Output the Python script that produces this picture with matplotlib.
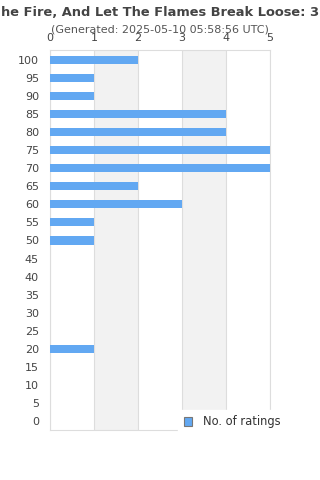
import matplotlib
matplotlib.use("Agg")
import matplotlib.pyplot as plt
from matplotlib.patches import Patch

categories = [0, 5, 10, 15, 20, 25, 30, 35, 40, 45, 50, 55, 60, 65, 70, 75, 80, 85, 90, 95, 100]
counts = [0, 0, 0, 0, 1, 0, 0, 0, 0, 0, 1, 1, 3, 2, 5, 5, 4, 4, 1, 1, 2]
x_ticks = [0, 1, 2, 3, 4, 5]
title = "he Fire, And Let The Flames Break Loose: 3"
subtitle = "(Generated: 2025-05-10 05:58:56 UTC)"
legend_label = "No. of ratings"

bar_color = "#62a8f2"
text_color = "#444444"

fig = plt.figure(figsize=(3.2, 4.8), dpi=100)
ax = fig.add_axes([50/320, 1-430/480, 220/320, 380/480])

pos = list(range(len(categories)))
ax.barh(pos, counts, height=0.45, color=bar_color, zorder=3)

ax.set_xlim(0, 5)
ax.set_ylim(-0.5, 20.55)
for i in range(5):
    if i % 2 == 1:
        ax.axvspan(i, i+1, color="#f2f2f2", zorder=0, lw=0)
for x in x_ticks:
    ax.axvline(x, color="#dddddd", lw=0.8, zorder=1)

ax.set_yticks(pos)
ax.set_yticklabels([str(c) for c in categories])
ax.set_xticks(x_ticks)
ax.xaxis.tick_top()
ax.tick_params(axis="both", length=0, colors=text_color, labelsize=8)
ax.tick_params(axis="x", pad=5)
ax.tick_params(axis="y", pad=8)
for s in ax.spines.values():
    s.set_color("#dddddd")
    s.set_linewidth(0.8)

fig.text(0.5, 1-12/480, title, ha="center", va="center", fontsize=9.4,
         fontweight="bold", color=text_color)
fig.text(0.5, 1-30/480, subtitle, ha="center", va="center", fontsize=8, color="#555555")

handle = Patch(facecolor=bar_color, edgecolor="#777777", linewidth=0.8)
leg = fig.legend([handle], [legend_label], loc="center left",
                 bbox_to_anchor=(178/320, 1-422/480), frameon=True,
                 fontsize=8.3, handlelength=0.75, handleheight=0.75,
                 borderpad=0.5, handletextpad=0.9, borderaxespad=0)
leg.get_frame().set_facecolor("white")
leg.get_frame().set_edgecolor("white")
leg.get_frame().set_alpha(1)
for t in leg.get_texts():
    t.set_color("#333333")

fig.savefig("out.png", dpi=100)
